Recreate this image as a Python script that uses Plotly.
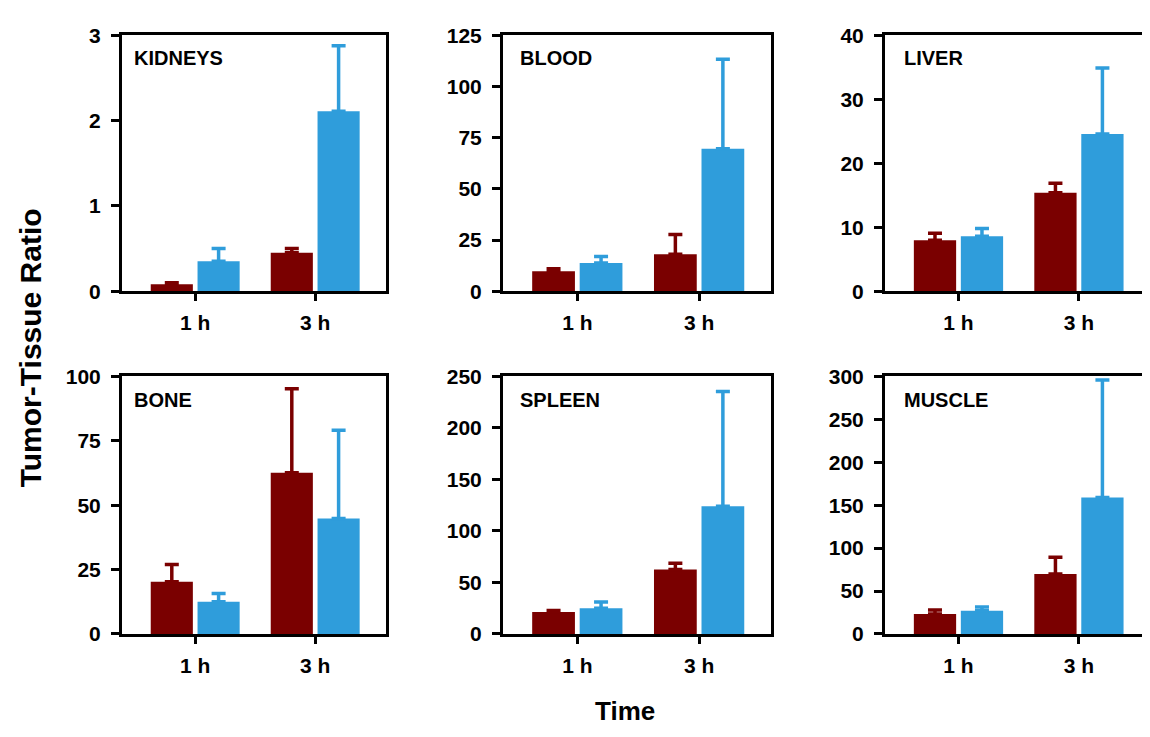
import plotly.graph_objects as go

# ---- data ----
categories = ["1 h", "3 h"]
panels = ["KIDNEYS", "BLOOD", "LIVER", "BONE", "SPLEEN", "MUSCLE"]

red_vals = {
    "KIDNEYS": [0.08, 0.45],
    "BLOOD": [9.8, 18.0],
    "LIVER": [7.95, 15.4],
    "BONE": [20.3, 62.6],
    "SPLEEN": [21.3, 62.7],
    "MUSCLE": [23.4, 69.8],
}
red_err = {
    "KIDNEYS": [0.02, 0.05],
    "BLOOD": [1.2, 9.7],
    "LIVER": [1.1, 1.5],
    "BONE": [6.7, 32.6],
    "SPLEEN": [1.6, 6.0],
    "MUSCLE": [4.5, 19.6],
}
blue_vals = {
    "KIDNEYS": [0.35, 2.11],
    "BLOOD": [13.8, 69.6],
    "LIVER": [8.6, 24.6],
    "BONE": [12.5, 44.8],
    "SPLEEN": [25.1, 123.9],
    "MUSCLE": [27.2, 158.9],
}
blue_err = {
    "KIDNEYS": [0.15, 0.77],
    "BLOOD": [3.1, 43.8],
    "LIVER": [1.2, 10.3],
    "BONE": [3.2, 34.3],
    "SPLEEN": [6.0, 111.4],
    "MUSCLE": [4.1, 137.0],
}
y_ranges = {
    "KIDNEYS": (3, 1),
    "BLOOD": (125, 25),
    "LIVER": (40, 10),
    "BONE": (100, 25),
    "SPLEEN": (250, 50),
    "MUSCLE": (300, 50),
}

# ---- style / layout ----
# page body has an 8px margin; figure sized so it fits the 1150x737 window
OFF = 8
W, H = 1150 - OFF, 737 - OFF
RED = "#7a0000"
BLUE = "#2f9ddb"
FONT = "Arial, Liberation Sans, sans-serif"


def px(s):
    return (s - OFF) / W


def py(s):
    return 1 - (s - OFF) / H


col_px = [(122, 386), (503, 771), (885, 1150)]
row_px = [(24, 288), (376, 642)]
label_dx = [10, 15, 17]
label_y = [47, 400]

fig = go.Figure()
for i, name in enumerate(panels):
    r, c = divmod(i, 3)
    n = i + 1
    xa = "x" if n == 1 else f"x{n}"
    ya = "y" if n == 1 else f"y{n}"
    common = dict(x=categories, xaxis=xa, yaxis=ya, showlegend=False,
                  marker_line_width=0)
    fig.add_trace(go.Bar(y=red_vals[name], marker_color=RED, name="red",
                         error_y=dict(type="data", symmetric=False, array=red_err[name],
                                      arrayminus=[0, 0], color=RED, thickness=3.5, width=7),
                         offsetgroup="a", **common))
    fig.add_trace(go.Bar(y=blue_vals[name], marker_color=BLUE, name="blue",
                         error_y=dict(type="data", symmetric=False, array=blue_err[name],
                                      arrayminus=[0, 0], color=BLUE, thickness=3.5, width=7),
                         offsetgroup="b", **common))

    x0, x1 = col_px[c]
    top, bot = row_px[r]
    xdom = [px(x0), min(px(x1), 1.0)]
    ydom = [py(bot), py(top)]
    ymax, dt = y_ranges[name]
    xkey = "xaxis" if n == 1 else f"xaxis{n}"
    ykey = "yaxis" if n == 1 else f"yaxis{n}"
    fig.layout[xkey] = dict(
        domain=xdom, anchor=ya, type="category", range=[-0.61, 1.59],
        showline=True, linecolor="black", linewidth=3, mirror=True,
        ticks="outside", ticklen=7, tickwidth=3, tickcolor="black",
        showgrid=False, zeroline=False, ticklabelstandoff=4,
        tickfont=dict(family=FONT, size=21, color="black", weight="bold"),
    )
    fig.layout[ykey] = dict(
        domain=ydom, anchor=xa, range=[0, ymax], dtick=dt, tick0=0,
        showline=True, linecolor="black", linewidth=3, mirror=(c != 2),
        ticks="outside", ticklen=8, tickwidth=3, tickcolor="black",
        showgrid=False, zeroline=False, ticklabelstandoff=6,
        tickfont=dict(family=FONT, size=21, color="black", weight="bold"),
    )
    fig.add_annotation(text=f"<b>{name}</b>", xref="paper", yref="paper",
                       x=px(x0 + label_dx[c]), y=py(label_y[r]),
                       xanchor="left", yanchor="middle", showarrow=False,
                       font=dict(family=FONT, size=20, color="black"))

fig.add_annotation(text="<b>Tumor-Tissue Ratio</b>", xref="paper", yref="paper",
                   x=px(30), y=py(347), textangle=-90, showarrow=False,
                   xanchor="center", yanchor="middle",
                   font=dict(family=FONT, size=30, color="black"))
fig.add_annotation(text="<b>Time</b>", xref="paper", yref="paper",
                   x=px(625), y=py(722), showarrow=False,
                   xanchor="center", yanchor="middle",
                   font=dict(family=FONT, size=26, color="black"))

fig.update_layout(
    width=W, height=H, margin=dict(l=0, r=0, t=0, b=0),
    paper_bgcolor="white", plot_bgcolor="white",
    barmode="group", bargap=0.22, bargroupgap=0.1,
)
fig.write_html("out.html")
